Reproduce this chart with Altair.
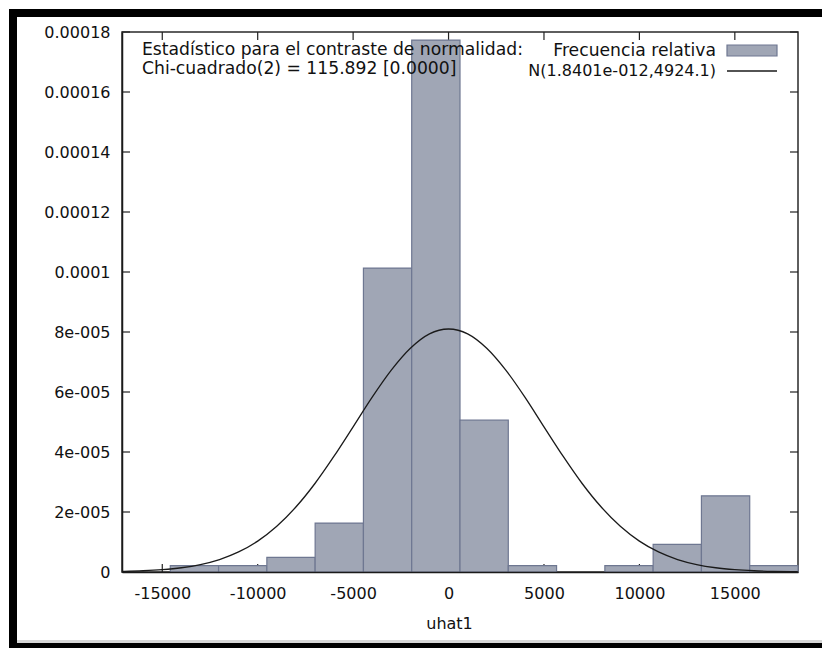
import json
import altair as alt
import pandas as pd

# ---------------- data ----------------
bin_left = [-14580, -12050, -9520, -6990, -4460, -1930, 600, 3130, 5660, 8190, 10720, 13250, 15780]
bin_right = [-12050, -9520, -6990, -4460, -1930, 600, 3130, 5660, 8190, 10720, 13250, 15780, 18310]
density = [2.1e-6, 2.1e-6, 4.9e-6, 1.63e-5, 1.013e-4, 1.773e-4, 5.06e-5, 2.1e-6, 0.0,
           2.1e-6, 9.2e-6, 2.54e-5, 2.1e-6]

curve_x = [-17100, -17000, -16000, -15000, -14000, -13000, -12000, -11000, -10000, -9000,
           -8000, -7000, -6000, -5000, -4000, -3000, -2000, -1000, 0, 1000, 2000, 3000,
           4000, 5000, 6000, 7000, 8000, 9000, 10000, 11000, 12000, 13000, 14000, 15000,
           16000, 17000, 18000, 18300]
curve_y = [1.95e-7, 2.09e-7, 4.1e-7, 7.8e-7, 1.42e-6, 2.49e-6, 4.16e-6, 6.68e-6, 1.03e-5,
           1.525e-5, 2.165e-5, 2.95e-5, 3.86e-5, 4.84e-5, 5.83e-5, 6.73e-5, 7.46e-5, 7.94e-5,
           8.10e-5, 7.94e-5, 7.46e-5, 6.73e-5, 5.83e-5, 4.84e-5, 3.86e-5, 2.95e-5, 2.165e-5,
           1.525e-5, 1.03e-5, 6.68e-6, 4.16e-6, 2.49e-6, 1.42e-6, 7.8e-7, 4.1e-7, 2.09e-7,
           1.02e-7, 8.1e-8]

x_ticks = [-15000, -10000, -5000, 0, 5000, 10000, 15000]
x_tick_labels = ["-15000", "-10000", "-5000", "0", "5000", "10000", "15000"]
y_ticks = [0, 2e-5, 4e-5, 6e-5, 8e-5, 1e-4, 1.2e-4, 1.4e-4, 1.6e-4, 1.8e-4]
y_tick_labels = ["0", "2e-005", "4e-005", "6e-005", "8e-005", "0.0001", "0.00012",
                 "0.00014", "0.00016", "0.00018"]

x_domain = [-17110, 18310]
y_domain = [0, 0.00018]

stat_lines = ["Estadístico para el contraste de normalidad:",
              "Chi-cuadrado(2) = 115.892 [0.0000]"]
legend_labels = ["Frecuencia relativa", "N(1.8401e-012,4924.1)"]
x_title = "uhat1"

# ---------------- styling ----------------
FONT = "DejaVu Sans"
FS = 16
W, H = 676, 540
BAR_FILL = "#a0a6b5"
BAR_STROKE = "#6e7791"
INK = "#111111"

xs = alt.Scale(domain=x_domain, nice=False, zero=False)
ys = alt.Scale(domain=y_domain, nice=False)

hist_df = pd.DataFrame({"x0": bin_left, "x1": bin_right, "density": density})
hist_df = hist_df[hist_df["density"] > 0]
curve_df = pd.DataFrame({"x": curve_x, "y": curve_y})
xt_df = pd.DataFrame({"x0": x_ticks})
yt_df = pd.DataFrame({"density": y_ticks})
one = pd.DataFrame({"a": [0]})

x_label_expr = json.dumps(x_tick_labels) + "[round((datum.value - (%d)) / %d)]" % (
    x_ticks[0], x_ticks[1] - x_ticks[0])
y_label_expr = json.dumps(y_tick_labels) + "[round(datum.value / %g)]" % (y_ticks[1])

x_axis = alt.Axis(values=x_ticks, labelExpr=x_label_expr, ticks=False, grid=False,
                  domain=True, domainColor="#1a1a1a", domainWidth=1.5,
                  labelPadding=13, labelFont=FONT, labelFontSize=FS, labelColor=INK,
                  labelFlush=False, labelOverlap=False, title=x_title,
                  titleFont=FONT, titleFontSize=FS, titleFontWeight="normal",
                  titleColor=INK, titleX=327, titleY=56, titleBaseline="alphabetic",
                  titleAlign="center", zindex=1)
y_axis = alt.Axis(values=y_ticks, labelExpr=y_label_expr, ticks=False, grid=False,
                  domain=True, domainColor="#1a1a1a", domainWidth=1.5,
                  labelPadding=12, labelFont=FONT, labelFontSize=FS, labelColor=INK,
                  labelFlush=False, labelOverlap=False, title=None, zindex=1)

XF = lambda f: alt.X(f, type="quantitative", scale=xs, axis=x_axis, title=x_title)
YF = lambda f: alt.Y(f, type="quantitative", scale=ys, axis=y_axis, title=None)

TL = 8
# inward ticks on all four sides
ticks_bottom = alt.Chart(xt_df).mark_rule(color="#222", strokeWidth=1.2).encode(
    x=XF("x0"), y=alt.value(H), y2=alt.value(H - TL))
ticks_top = alt.Chart(xt_df).mark_rule(color="#222", strokeWidth=1.2).encode(
    x=XF("x0"), y=alt.value(0), y2=alt.value(TL))
ticks_left = alt.Chart(yt_df).mark_rule(color="#222", strokeWidth=1.2).encode(
    y=YF("density"), x=alt.value(0), x2=alt.value(TL))
ticks_right = alt.Chart(yt_df).mark_rule(color="#222", strokeWidth=1.2).encode(
    y=YF("density"), x=alt.value(W), x2=alt.value(W - TL))

bars = alt.Chart(hist_df).mark_rect(fill=BAR_FILL, stroke=BAR_STROKE, strokeWidth=1.2).encode(
    x=XF("x0"),
    x2="x1:Q",
    y=YF("density"),
    y2=alt.Y2(datum=0),
)

curve = alt.Chart(curve_df).mark_line(color="#1a1a1a", strokeWidth=1.3,
                                      interpolate="monotone", clip=True).encode(
    x=XF("x"),
    y=YF("y"),
)

def txt(s, x, y, align, fs):
    return alt.Chart(one).mark_text(text=s, font=FONT, fontSize=fs, color=INK,
                                    align=align, baseline="alphabetic").encode(
        x=alt.value(x), y=alt.value(y))

stat1 = txt(stat_lines[0], 20, 23, "left", 17.2)
stat2 = txt(stat_lines[1], 20, 42, "left", 17.2)
leg1 = txt(legend_labels[0], 594, 24, "right", 17.2)
leg2 = txt(legend_labels[1], 594, 44, "right", 16)
leg_swatch = alt.Chart(one).mark_rect(fill=BAR_FILL, stroke=BAR_STROKE, strokeWidth=1.2).encode(
    x=alt.value(605), x2=alt.value(655), y=alt.value(13), y2=alt.value(24))
leg_line = alt.Chart(one).mark_rule(color="#1a1a1a", strokeWidth=1.3).encode(
    x=alt.value(605), x2=alt.value(655), y=alt.value(39))

# screenshot frame (decoration)
def band(x, x2, y, y2, color):
    return alt.Chart(one).mark_rect(fill=color, strokeWidth=0).encode(
        x=alt.value(x), x2=alt.value(x2), y=alt.value(y), y2=alt.value(y2))

frame = [
    band(-113, 700, -23, -15, "black"),
    band(-113, -105, -23, 616, "black"),
    band(-105, 700, 608, 611, "#d6d6d6"),
    band(-113, 700, 611, 616, "black"),
]

chart = alt.layer(
    ticks_bottom, ticks_top, ticks_left, ticks_right,
    bars, curve, stat1, stat2, leg1, leg2, leg_swatch, leg_line, *frame
).properties(
    width=W, height=H,
    autosize=alt.AutoSizeParams(type="none"),
    padding={"left": 122, "top": 32, "right": 24, "bottom": 76},
    background="white",
).configure_view(stroke="#2a2a2a", strokeWidth=1.5)

chart.save("out.html", embed_options={"renderer": "svg", "actions": False})
